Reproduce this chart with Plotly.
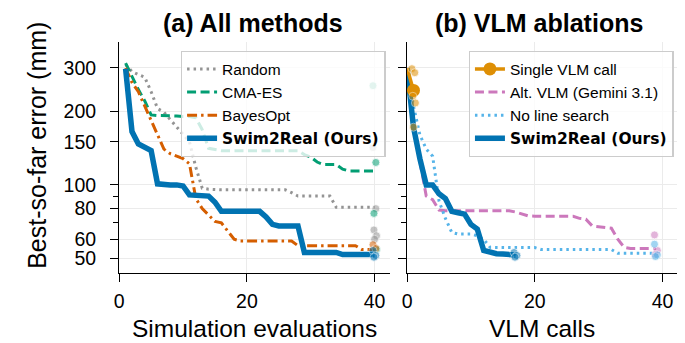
import plotly.graph_objects as go

# ---------------- data ----------------
evals = list(range(1, 41))
random_best = [310, 290, 282, 275, 240, 205, 198, 185, 172, 162,
               150, 118, 97, 96, 95.5, 95.5, 95.5, 95.5, 95.5, 95.5,
               95.5, 95.5, 95.5, 95.5, 95.5, 95.5, 93, 90, 90, 90,
               90, 90, 90, 81, 81, 81, 81, 81, 81, 81]
cmaes_best = [314, 275, 245, 220, 193, 192, 192, 191, 191, 190,
              190, 188, 168, 141, 139, 138, 138, 138, 138, 138,
              138, 138, 138, 138, 138, 138, 138, 138, 133, 130,
              124, 121, 121, 121, 116, 114, 114, 114, 114, 114]
bayesopt_best = [300, 262, 240, 210, 185, 160, 140, 134, 131, 128,
                 122, 88, 80, 75, 71, 70, 65, 60, 59, 59,
                 59, 59, 59, 59, 59, 59, 59, 56.5, 56.5, 56.5,
                 56.5, 56.5, 56.5, 56.5, 56.5, 56.5, 56.5, 54.5, 54.5, 54.5]
swim_best = [298, 165, 147, 143, 138, 101, 100, 100, 100, 99,
             91, 91, 90, 90, 85, 78, 78, 78, 78, 78,
             78, 78, 74, 69, 68, 68, 68, 68, 53, 53,
             53, 53, 53, 53, 52, 52, 52, 52, 52, 52]

rand_final = [142, 80, 65.5, 62, 60]
cmaes_final = [254, 123.5, 76.5, 54.5]
bayesopt_final = [57, 55]
swim_final = [54, 51.5, 50.7]
budget_sim = 40

vlm_swim_calls = list(range(0, 18))
swim_vlm = [300, 172, 128, 100, 100, 92, 88, 78, 77, 76,
            69, 66, 54, 53, 52.4, 52.2, 52, 51.8]
vlm_calls = list(range(0, 40))
alt_vlm = [300, 172, 125, 90, 87, 79, 78.5, 78.5, 78.5, 78.5,
           78.5, 78.5, 78.5, 78.5, 78.5, 78.5, 78.5, 77.5, 76, 74.7,
           74.5, 74.5, 74.5, 74.5, 74.5, 74.5, 74.5, 73, 72.5, 68,
           67.5, 67, 66.6, 60, 55.6, 55, 55, 55, 55, 55]
no_ls = [300, 210, 160, 140, 131, 86, 73, 64, 63, 63,
         63, 62, 60, 55.6, 55.5, 55.5, 55.5, 55.5, 55.5, 55.5,
         55.5, 54.5, 54.5, 54.5, 54.5, 54.5, 54.5, 54.5, 54.5, 54.5,
         54.5, 54.5, 54.5, 52.6, 52.6, 52.6, 52.6, 52.6, 52.6, 52.6]
single_calls = [0, 1]
single_vlm = [300, 243]

single_final = [298, 287, 230, 216, 172]
alt_final = [62.5, 54, 52]
nols_final = [57.3, 51.8, 51]
swim_vlm_final = [53, 51.5, 50.7]
single_budget = 1
swim_vlm_budget = 17
ablation_budget = 39
jitter = [-0.25, 0.2, -0.1, 0.3, 0.0]

y_ticks = [50, 60, 80, 100, 150, 200, 300]
y_minor = [70, 90]
x_ticks = [0, 20, 40]

# ---------------- style ----------------
FONT = "Liberation Sans, Arial, Helvetica, sans-serif"
C_RAND = "#949494"
C_CMA = "#029E73"
C_BO = "#D55E00"
C_SWIM = "#0173B2"
C_SINGLE = "#DE8F05"
C_ALT = "#CC78BC"
C_NOLS = "#56B4E9"
OURS = "<span style='font-family:DejaVu Sans'><b>Swim2Real (Ours)</b></span>"

fig = go.Figure()


def line(x, y, name, color, width, dash, xa, ya, legend, showlegend=True):
    fig.add_trace(go.Scatter(x=x, y=y, mode="lines", name=name,
                             line=dict(color=color, width=width, dash=dash),
                             xaxis=xa, yaxis=ya, legend=legend,
                             showlegend=showlegend, hoverinfo="skip"))


def dots(xb, vals, color, xa, ya):
    fig.add_trace(go.Scatter(x=[xb + jitter[i % len(jitter)] for i in range(len(vals))],
                             y=vals, mode="markers", showlegend=False,
                             marker=dict(color=color, size=8, opacity=0.55,
                                         line=dict(color="white", width=0.8)),
                             xaxis=xa, yaxis=ya, hoverinfo="skip"))


# Left panel
line(evals, random_best, "Random", C_RAND, 3, "2.5px,4px", "x", "y", "legend")
line(evals, cmaes_best, "CMA-ES", C_CMA, 3, "9px,4.5px", "x", "y", "legend")
line(evals, bayesopt_best, "BayesOpt", C_BO, 3, "10px,4px,2.5px,4px", "x", "y", "legend")
line(evals, swim_best, OURS, C_SWIM, 5.5, "solid", "x", "y", "legend")
dots(budget_sim, rand_final, C_RAND, "x", "y")
dots(budget_sim, cmaes_final, C_CMA, "x", "y")
dots(budget_sim, bayesopt_final, C_BO, "x", "y")
dots(budget_sim, swim_final, C_SWIM, "x", "y")

# Right panel
fig.add_trace(go.Scatter(x=[None], y=[None], mode="lines+markers", name="Single VLM call",
                         line=dict(color=C_SINGLE, width=3.5),
                         marker=dict(color=C_SINGLE, size=13),
                         xaxis="x2", yaxis="y2", legend="legend2"))
line(vlm_calls, alt_vlm, "Alt. VLM (Gemini 3.1)", C_ALT, 3, "9px,4.5px", "x2", "y2", "legend2")
line(vlm_calls, no_ls, "No line search", C_NOLS, 3, "2.5px,4px", "x2", "y2", "legend2")
line(vlm_swim_calls, swim_vlm, OURS, C_SWIM, 5.5, "solid", "x2", "y2", "legend2")
fig.add_trace(go.Scatter(x=single_calls, y=single_vlm, mode="lines", showlegend=False,
                         line=dict(color=C_SINGLE, width=3.5),
                         xaxis="x2", yaxis="y2", hoverinfo="skip"))
fig.add_trace(go.Scatter(x=single_calls[-1:], y=single_vlm[-1:], mode="markers", showlegend=False,
                         marker=dict(color=C_SINGLE, size=13),
                         xaxis="x2", yaxis="y2", hoverinfo="skip"))
dots(single_budget, single_final, C_SINGLE, "x2", "y2")
dots(ablation_budget, alt_final, C_ALT, "x2", "y2")
dots(ablation_budget, nols_final, C_NOLS, "x2", "y2")
dots(swim_vlm_budget, swim_vlm_final, C_SWIM, "x2", "y2")

W, H = 685, 343
xl = (107 / W, 380 / W)
xr = (397 / W, 670 / W)
yd = (1 - 265 / H, 1 - 34 / H)
yrange = [1.6405, 2.5832]
xrange_ = [0, 42.45]

common_x = dict(range=xrange_, tickvals=x_ticks, showline=True, linecolor="black",
                linewidth=1.4, ticks="outside", ticklen=8, tickwidth=1.3,
                tickcolor="black", showgrid=True, gridcolor="#ebebeb", gridwidth=1,
                zeroline=False, ticklabelstandoff=2,
                tickfont=dict(size=19.5, color="black", family=FONT))
common_y = dict(type="log", range=yrange, tickvals=y_ticks, ticktext=[str(v) for v in y_ticks],
                showline=True, linecolor="black", linewidth=1.4, ticks="outside",
                ticklen=8, tickwidth=1.3, tickcolor="black", showgrid=True,
                gridcolor="#ebebeb", gridwidth=1, zeroline=False, domain=yd,
                ticklabelstandoff=10,
                tickfont=dict(size=19.5, color="black", family=FONT),
                minor=dict(tickvals=y_minor, ticks="outside", ticklen=5, tickwidth=1.1,
                           tickcolor="black", showgrid=False))

leg = dict(font=dict(size=15.5, family=FONT, color="black"), bgcolor="rgba(255,255,255,0.8)",
           bordercolor="#cccccc", borderwidth=1.3, xanchor="left", yanchor="top",
           tracegroupgap=0, itemwidth=30)

fig.update_layout(
    width=W, height=H, margin=dict(l=0, r=0, t=0, b=0),
    plot_bgcolor="white", paper_bgcolor="white",
    font=dict(family=FONT, color="black"),
    xaxis=dict(domain=xl, anchor="y", **common_x),
    xaxis2=dict(domain=xr, anchor="y2", **common_x),
    yaxis=dict(anchor="x", **common_y),
    yaxis2=dict(anchor="x2", showticklabels=False, **common_y),
    legend=dict(x=169 / W, y=1 - 43 / H, **leg),
    legend2=dict(x=459 / W, y=1 - 43 / H, **leg),
    annotations=[
        dict(text="<b>(a) All methods</b>", x=242 / W, y=1 - 15 / H, xref="paper", yref="paper",
             showarrow=False, font=dict(size=25, family=FONT), xanchor="center", yanchor="middle"),
        dict(text="<b>(b) VLM ablations</b>", x=530 / W, y=1 - 15 / H, xref="paper", yref="paper",
             showarrow=False, font=dict(size=25, family=FONT), xanchor="center", yanchor="middle"),
        dict(text="Simulation evaluations", x=243 / W, y=1 - 320 / H, xref="paper", yref="paper",
             showarrow=False, font=dict(size=24.5, family=FONT), xanchor="center", yanchor="middle"),
        dict(text="VLM calls", x=533 / W, y=1 - 320 / H, xref="paper", yref="paper",
             showarrow=False, font=dict(size=24.5, family=FONT), xanchor="center", yanchor="middle"),
        dict(text="Best-so-far error (mm)", x=24 / W, y=1 - 137 / H, xref="paper", yref="paper",
             showarrow=False, font=dict(size=25, family=FONT), textangle=-90,
             xanchor="center", yanchor="middle"),
    ],
)

fig.write_html("out.html")
